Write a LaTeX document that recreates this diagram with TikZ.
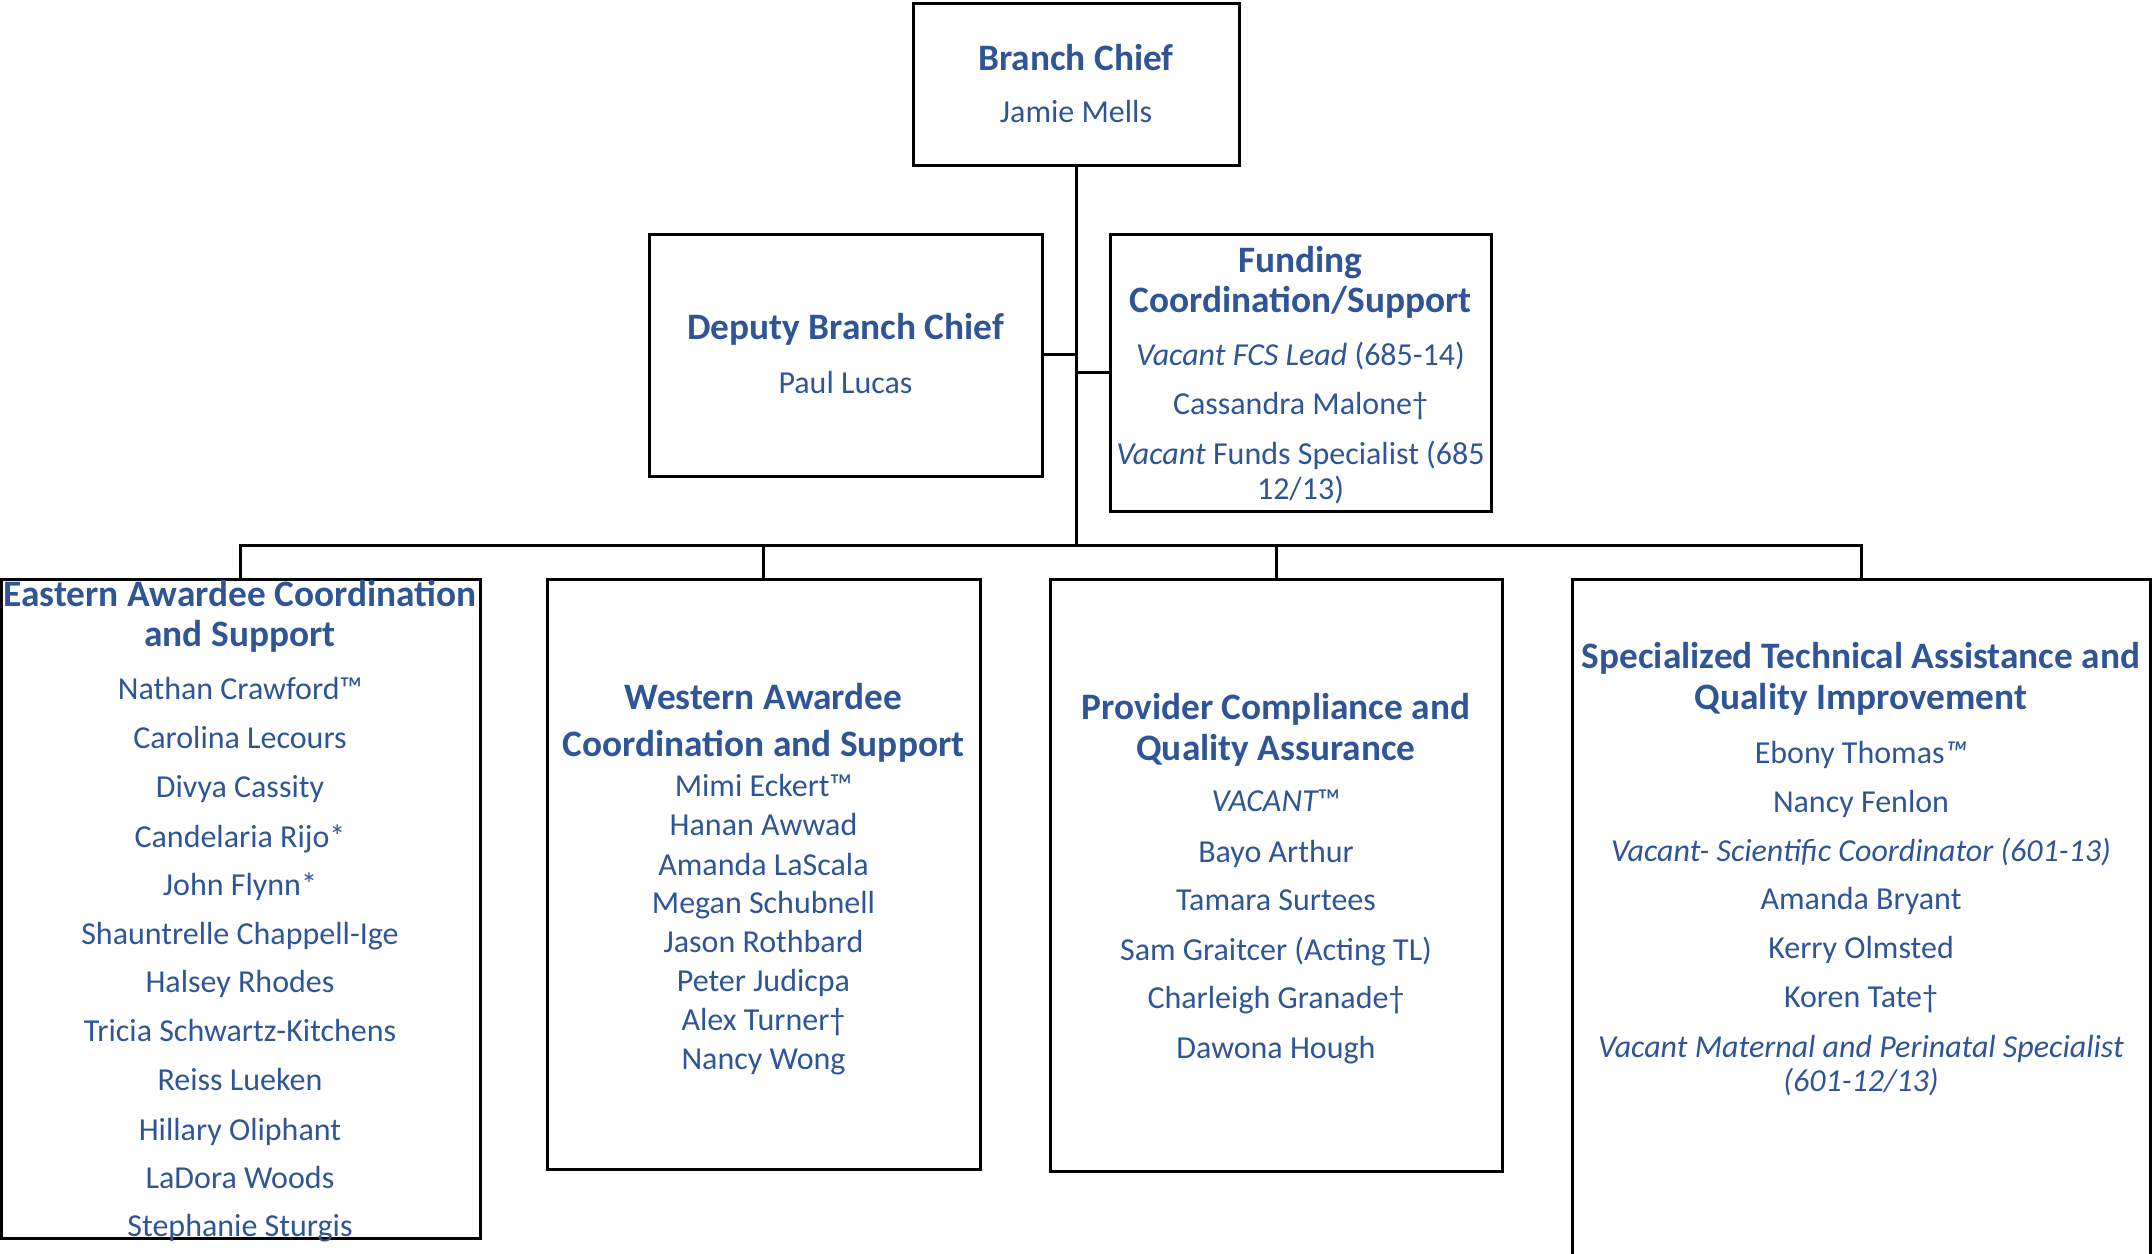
\documentclass[tikz,border=0pt]{standalone}
\usepackage{fontspec}
\setmainfont{Carlito}
\usetikzlibrary{fit}
\definecolor{txtblue}{RGB}{47,85,151}
\begin{document}
\begin{tikzpicture}[x=0.5pt,y=-0.5pt,
  box/.style={draw=black,line width=1.5pt,inner sep=0pt},
  conn/.style={draw=black,line width=1.5pt},
  ttl/.style={anchor=base,inner sep=0pt,yshift=-0.75pt,text=txtblue,font=\bfseries\fontsize{18.67}{22}\selectfont},
  nm/.style={anchor=base,inner sep=0pt,yshift=-0.75pt,text=txtblue,font=\fontsize{16}{19}\selectfont}]
\useasboundingbox (0,0) rectangle (2152,1253);
% boxes
\node[box,fit={(913,3) (1239,165)}] (bc) {};
\node[box,fit={(649,234) (1042,476)}] (dep) {};
\node[box,fit={(1110,234) (1491,511)}] (fund) {};
\node[box,fit={(1.5,579) (480,1238)}] (east) {};
\node[box,fit={(547,579) (980,1169)}] (west) {};
\node[box,fit={(1050,579) (1502,1171)}] (prov) {};
\node[box,fit={(1572,579) (2150.5,1258)}] (spec) {};
% connectors
\coordinate (bus) at (1076,545);
\coordinate (jd) at (1076,354.6);
\coordinate (jf) at (1076,372.5);
\draw[conn] (bc.south) -- (bus);
\draw[conn] (dep.east |- jd) -- (jd);
\draw[conn] (jf) -- (fund.west |- jf);
\draw[conn] (east.north) |- (bus) -| (spec.north);
\draw[conn] (west.north) -- (west.north |- bus);
\draw[conn] (prov.north) -- (prov.north |- bus);
% Branch chief
\node[ttl] (bct) at (1076,68.6) {Branch Chief};
\node[nm] (bcn) at (1076,121.4) {Jamie Mells};
% Deputy
\node[ttl] (dept) at (845.5,337.5) {Deputy Branch Chief};
\node[nm] (depn) at (845.5,391.8) {Paul Lucas};
% Funding
\node[ttl] (fundt1) at (1300.5,271) {Funding};
\node[ttl] (fundt2) at (1300.5,310.7) {Coordination/Support};
\node[nm] (fundn1) at (1300.5,364) {{\itshape Vacant FCS Lead} (685-14)};
\node[nm] (fundn2) at (1300.5,413) {Cassandra Malone†};
\node[nm] (fundn3) at (1300.5,462.5) {{\itshape Vacant} Funds Specialist (685};
\node[nm] (fundn4) at (1300.5,497.5) {12/13)};
% Eastern
\node[ttl] (eastt1) at (240,605) {Eastern Awardee Coordination};
\node[ttl] (eastt2) at (240,645) {and Support};
\foreach \yy/\tt [count=\i] in {698/Nathan Crawford™, 747/Carolina Lecours, 796/Divya Cassity, 846/Candelaria Rijo*, 894/John Flynn*, 943/Shauntrelle Chappell-Ige, 991/Halsey Rhodes, 1040/Tricia Schwartz-Kitchens, 1089/Reiss Lueken, 1139/Hillary Oliphant, 1187/LaDora Woods, 1235/Stephanie Sturgis}
  \node[nm] (eastn\i) at (240,\yy) {\tt};
% Western
\node[ttl] (westt1) at (763.5,707.5) {Western Awardee};
\node[ttl] (westt2) at (763.5,754.5) {Coordination and Support};
\foreach \yy/\tt [count=\i] in {795/Mimi Eckert™, 834/Hanan Awwad, 873.5/Amanda LaScala, 912/Megan Schubnell, 951/Jason Rothbard, 990/Peter Judicpa, 1029/Alex Turner†, 1068/Nancy Wong}
  \node[nm] (westn\i) at (763.5,\yy) {\tt};
% Provider
\node[ttl] (provt1) at (1276,718) {Provider Compliance and};
\node[ttl] (provt2) at (1276,759) {Quality Assurance};
\foreach \yy/\tt [count=\i] in {810/{{\itshape VACANT}™}, 860.6/Bayo Arthur, 909/Tamara Surtees, 959/Sam Graitcer (Acting TL), 1007/Charleigh Granade†, 1056.5/Dawona Hough}
  \node[nm] (provn\i) at (1276,\yy) {\tt};
% Specialized
\node[ttl] (spect1) at (1861,667.4) {Specialized Technical Assistance and};
\node[ttl] (spect2) at (1861,708.4) {Quality Improvement};
\foreach \yy/\tt [count=\i] in {762/{Ebony Thomas{\itshape ™}}, 811/Nancy Fenlon, 859.6/{{\itshape Vacant- Scientific Coordinator (601-13)}}, 908/Amanda Bryant, 957.4/Kerry Olmsted, 1006/Koren Tate†, 1055.6/{{\itshape Vacant Maternal and Perinatal Specialist}}, 1090/{{\itshape (601-12/13)}}}
  \node[nm] (specn\i) at (1861,\yy) {\tt};
\end{tikzpicture}
\end{document}
